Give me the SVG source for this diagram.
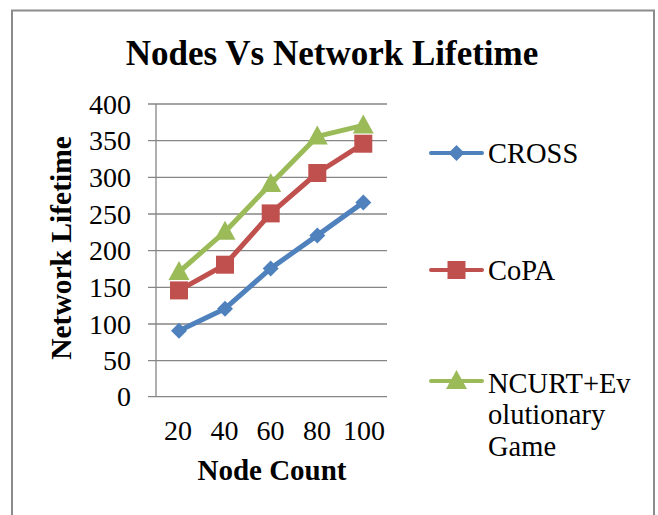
<svg xmlns="http://www.w3.org/2000/svg" width="658" height="515" viewBox="0 0 658 515">
<style>
.t{font-family:"Liberation Serif","Times New Roman",serif;fill:#000}
.b{font-weight:bold}
.grid{stroke:#868686;stroke-width:1.3;fill:none}
.s{fill:none;stroke-width:5;stroke-linejoin:round;stroke-linecap:round}
</style>
<defs>
<path id="dia" d="M0,-8 L8,0 L0,8 L-8,0 Z" fill="#4F81BD"/>
<rect id="sq" x="-9" y="-9" width="18" height="18" fill="#C0504D"/>
<path id="tri" d="M0,-11 L10.5,8 L-10.5,8 Z" fill="#9BBB59"/>
</defs>
<rect x="0" y="0" width="658" height="515" fill="#fff"/>
<rect x="12" y="10.5" width="642" height="520" fill="none" stroke="#8c8c8c" stroke-width="2"/>
<text class="t b" x="332" y="65" font-size="35" text-anchor="middle">Nodes Vs Network Lifetime</text>
<g id="axes">
<g class="grid">
<line x1="148" y1="104" x2="387" y2="104"/>
<line x1="148" y1="140.7" x2="387" y2="140.7"/>
<line x1="148" y1="177.3" x2="387" y2="177.3"/>
<line x1="148" y1="214" x2="387" y2="214"/>
<line x1="148" y1="250.7" x2="387" y2="250.7"/>
<line x1="148" y1="287.3" x2="387" y2="287.3"/>
<line x1="148" y1="324" x2="387" y2="324"/>
<line x1="148" y1="360.7" x2="387" y2="360.7"/>
<line x1="148" y1="396.7" x2="387" y2="396.7"/>
<line x1="156" y1="104" x2="156" y2="396.7"/>
</g>
<g class="t" font-size="28" text-anchor="end">
<text x="131" y="113.5">400</text>
<text x="131" y="150.2">350</text>
<text x="131" y="186.8">300</text>
<text x="131" y="223.5">250</text>
<text x="131" y="260.2">200</text>
<text x="131" y="296.8">150</text>
<text x="131" y="333.5">100</text>
<text x="131" y="370.2">50</text>
<text x="131" y="406.2">0</text>
</g>
<g class="t" font-size="28" text-anchor="middle">
<text x="178" y="440">20</text>
<text x="224.5" y="440">40</text>
<text x="270.5" y="440">60</text>
<text x="317" y="440">80</text>
<text x="364" y="440">100</text>
</g>
<text class="t b" x="272" y="480" font-size="29" text-anchor="middle">Node Count</text>
<text class="t b" x="0" y="0" font-size="29.5" text-anchor="middle" transform="translate(71,248) rotate(-90)">Network Lifetime</text>
</g>
<g id="connectors">
<polyline class="s" stroke="#4F81BD" points="179,330.7 225,308.7 270.7,268.4 317.3,235.4 363.3,202.4"/>
<polyline class="s" stroke="#C0504D" points="179,290.4 225,264.7 270.7,213.4 317.3,173.0 363.3,143.7"/>
<polyline class="s" stroke="#9BBB59" points="179,272.0 225,231.7 270.7,184.0 317.3,136.4 363.3,125.4"/>
</g>
<g id="cross-markers">
<use href="#dia" x="179" y="330.7"/><use href="#dia" x="225" y="308.7"/><use href="#dia" x="270.7" y="268.4"/><use href="#dia" x="317.3" y="235.4"/><use href="#dia" x="363.3" y="202.4"/>
</g>
<g id="copa-markers">
<use href="#sq" x="179" y="290.4"/><use href="#sq" x="225" y="264.7"/><use href="#sq" x="270.7" y="213.4"/><use href="#sq" x="317.3" y="173.0"/><use href="#sq" x="363.3" y="143.7"/>
</g>
<g id="ncurt-markers">
<use href="#tri" x="179" y="272.0"/><use href="#tri" x="225" y="231.7"/><use href="#tri" x="270.7" y="184.0"/><use href="#tri" x="317.3" y="136.4"/><use href="#tri" x="363.3" y="125.4"/>
</g>
<g id="legend-cross">
<line x1="431" y1="153" x2="482" y2="153" stroke="#4F81BD" stroke-width="4" stroke-linecap="round"/>
<use href="#dia" x="456.5" y="153"/>
<text class="t" x="488" y="162.5" font-size="28.5">CROSS</text>
</g>
<g id="legend-copa">
<line x1="431" y1="270" x2="482" y2="270" stroke="#C0504D" stroke-width="4" stroke-linecap="round"/>
<use href="#sq" x="456.5" y="270"/>
<text class="t" x="488" y="279.5" font-size="28.5">CoPA</text>
</g>
<g id="legend-ncurt">
<line x1="431" y1="381" x2="482" y2="381" stroke="#9BBB59" stroke-width="4" stroke-linecap="round"/>
<use href="#tri" x="456.5" y="381"/>
<text class="t" font-size="28.5"><tspan x="488" y="392.5">NCURT+Ev</tspan><tspan x="488" y="424">olutionary</tspan><tspan x="488" y="456">Game</tspan></text>
</g>
</svg>
